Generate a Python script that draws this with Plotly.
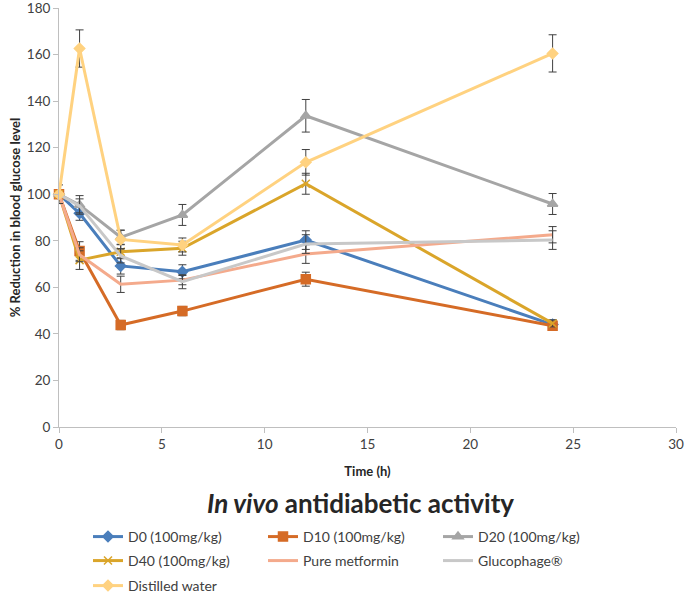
import plotly.graph_objects as go

time_h = [0, 1, 3, 6, 12, 24]

d0 = [100, 91.8, 69.2, 66.7, 80.3, 44.0]
d0_err = [0, 3, 3.5, 3, 4, 2]
d10 = [100, 75.6, 43.8, 49.8, 63.5, 43.5]
d10_err = [0, 4, 2, 2, 3, 1.5]
d20 = [100, 95.4, 81.5, 91.1, 133.7, 95.8]
d20_err = [0, 4, 3, 4.5, 7, 4.5]
d40 = [100, 71.7, 75.3, 76.8, 104.5, 44.5]
d40_err = [0, 4, 3, 3, 4.5, 1.5]
pure_met = [100, 74.0, 61.3, 63.1, 74.3, 82.6]
pure_met_err = [0, 3, 3.5, 2, 4, 3.5]
glucophage = [100, 95.0, 73.5, 62.4, 78.6, 80.3]
glucophage_err = [0, 3, 3, 3, 4, 4]
water = [100, 162.6, 80.6, 78.2, 113.7, 160.5]
water_err = [4, 8, 4, 3, 5.5, 8]

series = [
    ("D0 (100mg/kg)", d0, d0_err, "#4A7EBB", "diamond", 8, "legend"),
    ("D10 (100mg/kg)", d10, d10_err, "#D56B26", "square", 9, "legend"),
    ("D20 (100mg/kg)", d20, d20_err, "#A5A5A5", "triangle-up", 9, "legend"),
    ("D40 (100mg/kg)", d40, d40_err, "#DAA52A", "x-thin-open", 8, "legend2"),
    ("Pure metformin", pure_met, pure_met_err, "#F4AA8C", None, 0, "legend2"),
    ("Glucophage®", glucophage, glucophage_err, "#C8C8C8", None, 0, "legend2"),
    ("Distilled water", water, water_err, "#FFD280", "diamond", 8, "legend3"),
]

fig = go.Figure()
for name, vals, errs, color, sym, size, leg in series:
    mode = "lines+markers" if sym else "lines"
    marker = dict(symbol=sym or "circle", size=size, color=color,
                  line=dict(color=color, width=1.5))
    fig.add_trace(go.Scatter(
        x=time_h, y=vals, name=name, mode=mode, legend=leg,
        line=dict(color=color, width=3),
        marker=marker,
        error_y=dict(type="data", array=errs, visible=True,
                     color="#404040", thickness=1, width=4),
        cliponaxis=False,
    ))

fig.add_annotation(
    text="<b><i>In vivo</i> antidiabetic activity</b>",
    xref="paper", yref="paper", x=0.488, y=-0.178,
    xanchor="center", yanchor="middle", showarrow=False,
    font=dict(family="Lato", size=26, color="#262626"),
)

leg_common = dict(orientation="h", x=0.047, xanchor="left",
                  entrywidth=130, entrywidthmode="pixels",
                  font=dict(family="Lato", size=14, color="#404040"),
                  traceorder="normal", itemwidth=30,
                  bgcolor="rgba(0,0,0,0)")

fig.update_layout(
    width=685, height=593,
    margin=dict(l=59, r=9, t=0, b=166),
    paper_bgcolor="white", plot_bgcolor="white",
    font=dict(family="Lato", size=13, color="#404040"),
    showlegend=True,
    legend=dict(leg_common, y=-0.2201, yanchor="top"),
    legend2=dict(leg_common, y=-0.2763, yanchor="top"),
    legend3=dict(leg_common, yref="container", y=0.0388, yanchor="top"),
    xaxis=dict(range=[0, 30], dtick=5, showgrid=False, zeroline=False,
               showline=True, linecolor="#BFBFBF", linewidth=1,
               ticks="outside", ticklen=5, tickcolor="#BFBFBF", automargin=False,
               ticklabeloverflow="allow",
               tickfont=dict(size=13.5, color="#404040"),
               title=dict(text="<b>Time (h)</b>", font=dict(size=13, color="#262626"), standoff=15)),
    yaxis=dict(range=[0, 180], dtick=20, showgrid=False, zeroline=False,
               domain=[0, 0.98126],
               showline=True, linecolor="#BFBFBF", linewidth=1,
               ticks="outside", ticklen=5, tickcolor="#BFBFBF", automargin=False,
               ticklabeloverflow="allow",
               tickfont=dict(size=13.5, color="#404040"),
               title=dict(text="<b>% Reduction in blood glucose level</b>", font=dict(size=13, color="#262626"), standoff=3)),
)

fig.write_html("out.html", config={"displayModeBar": False},
               post_script="document.body.style.margin='0px';")
